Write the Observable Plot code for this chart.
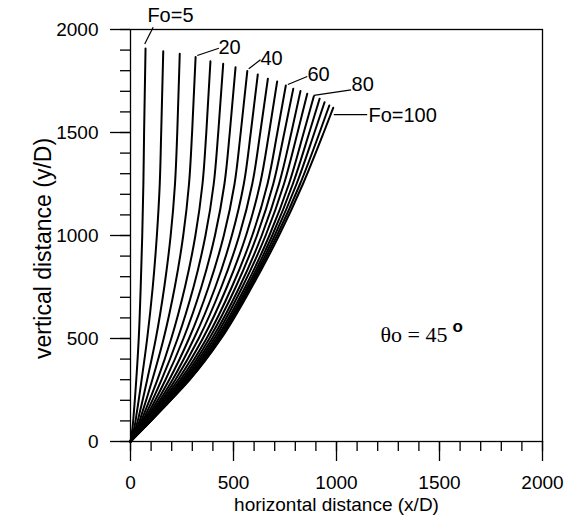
<!DOCTYPE html>
<html><head><meta charset="utf-8">
<script src="https://cdn.jsdelivr.net/npm/d3@7"></script>
<script src="https://cdn.jsdelivr.net/npm/@observablehq/plot@0.6"></script>
<style>body{margin:0;background:#fff}</style>
</head><body><div id="chart"></div>
<script>
// Froude numbers of the 20 trajectories
const fo = [5,10,15,20,25,30,35,40,45,50,55,60,65,70,75,80,85,90,95,100];
// heights (y/D) at which horizontal distances were read
const yLevels = [0,60,150,300,500,750,1000,1250,1500];
// horizontal distance (x/D) of each trajectory at each height
const x0    = [0,0,0,0,0,0,0,0,0,0,0,0,0,0,0,0,0,0,0,0];
const x60   = [9,17,24,30,35,39,43,46,48.5,50.5,52.5,54,55.5,56.5,57.5,58.3,59,59.4,59.7,60];
const x150  = [17,32,47,60,72,83,93,102,110,116,121,127,132,136,139,142,144,145.5,146.5,147];
const x300  = [28,54,81,106,131,151,170,188,204,218,231,243,253,261,268,274,279,283,286,288];
const x500  = [40,81,123,161,198,229,257,284,308,331,351,369,383,396,407,417,425,431,437,440];
const x750  = [49.5,108,164,215,264.5,306,344,379,412,441,468,492,511,529,543,557,567,575,582,589];
const x1000 = [57,128,195,256,315,364,410,453,492,528,561,591,614,637,656,674,688,700,711,721];
const x1250 = [62.5,142,216,284,349.5,404,456,505,550,591,629,665,693,721,745,769,788,806,823,837];
const x1500 = [66,149,227,299,368,426,482,535,584,630,673,713,747,781,811,841,868,893,918,938];
// end points of each trajectory
const topX = [73,159,239,316,388,450,510,567,618,667,712,754,790,825,858,890,918,942,965,984];
const topY = [1908,1895,1882,1866,1846,1834,1817,1798,1782,1761,1748,1728,1712,1701,1688,1676,1664,1647,1631,1620];

// axis ticks
const majorTicks = [0,500,1000,1500,2000];
const minorTicks = [0,100,200,300,400,500,600,700,800,900,1000,1100,1200,1300,1400,1500,1600,1700,1800,1900,2000];

// annotations
const curveLabels = [
  {text:"Fo=5",   x:82,   y:2068},
  {text:"20",     x:427,  y:1910},
  {text:"40",     x:631,  y:1859},
  {text:"60",     x:859,  y:1782},
  {text:"80",     x:1073, y:1731},
  {text:"Fo=100", x:1155, y:1583}
];
const leaders = [
  {x1:69,  y1:1930, x2:110,  y2:2011},
  {x1:324, y1:1874, x2:429,  y2:1909},
  {x1:574, y1:1809, x2:631,  y2:1853},
  {x1:764, y1:1733, x2:858,  y2:1772},
  {x1:890, y1:1680, x2:1071, y2:1707},
  {x1:987, y1:1587, x2:1149, y2:1587}
];
const thetaText = [{text:"θo = 45", x:1214, y:519}];
const thetaSup = [{text:"o", x:1563, y:560}];

const levels = [x0,x60,x150,x300,x500,x750,x1000,x1250,x1500];
const rows = [];
fo.forEach((f,i)=>{
  yLevels.forEach((y,j)=>rows.push({fo:f, x:levels[j][i], y}));
  rows.push({fo:f, x:topX[i], y:topY[i]});
});

const chart = Plot.plot({
  width: 574, height: 522,
  marginLeft: 130, marginRight: 32, marginTop: 29, marginBottom: 81,
  x: {domain:[0,2000]},
  y: {domain:[0,2000]},
  style: {fontFamily: "'Liberation Sans', Arial, sans-serif", fontSize: "19px", background: "#fff", color: "#000"},
  marks: [
    Plot.frame({stroke:"#000", strokeWidth:1.3}),
    Plot.axisX(minorTicks, {tickSize:10, tickFormat:()=>"", strokeWidth:1.3, label:null}),
    Plot.axisX(majorTicks, {tickSize:20, tickPadding:14, tickFormat:d=>String(d), strokeWidth:1.3, label:null}),
    Plot.axisY(minorTicks, {tickSize:10, tickFormat:()=>"", strokeWidth:1.3, label:null}),
    Plot.axisY(majorTicks, {tickSize:20, tickPadding:12, tickFormat:d=>String(d), strokeWidth:1.3, label:null}),
    Plot.line(rows, {x:"x", y:"y", z:"fo", curve:"monotone-y", stroke:"#000", strokeWidth:2}),
    Plot.link(leaders, {x1:"x1", y1:"y1", x2:"x2", y2:"y2", stroke:"#000", strokeWidth:1.2}),
    Plot.text(curveLabels, {x:"x", y:"y", text:"text", textAnchor:"start", lineAnchor:"middle", fontSize:20}),
    Plot.text(thetaText, {x:"x", y:"y", text:"text", textAnchor:"start", lineAnchor:"middle", fontSize:22, fontFamily:"'Liberation Serif', 'Times New Roman', serif"}),
    Plot.text(thetaSup, {x:"x", y:"y", text:"text", textAnchor:"start", lineAnchor:"middle", fontSize:17, fontWeight:"bold", fontFamily:"'Liberation Sans', Arial, sans-serif"}),
    Plot.text(["horizontal distance (x/D)"], {text:d=>d, frameAnchor:"bottom", textAnchor:"middle", dy:63, lineAnchor:"middle", fontSize:19}),
    Plot.text(["vertical distance (y/D)"], {text:d=>d, frameAnchor:"left", textAnchor:"middle", rotate:-90, dx:-87, dy:13, lineAnchor:"middle", fontSize:23})
  ]
});
document.getElementById("chart").appendChild(chart);
</script>
</body></html>
